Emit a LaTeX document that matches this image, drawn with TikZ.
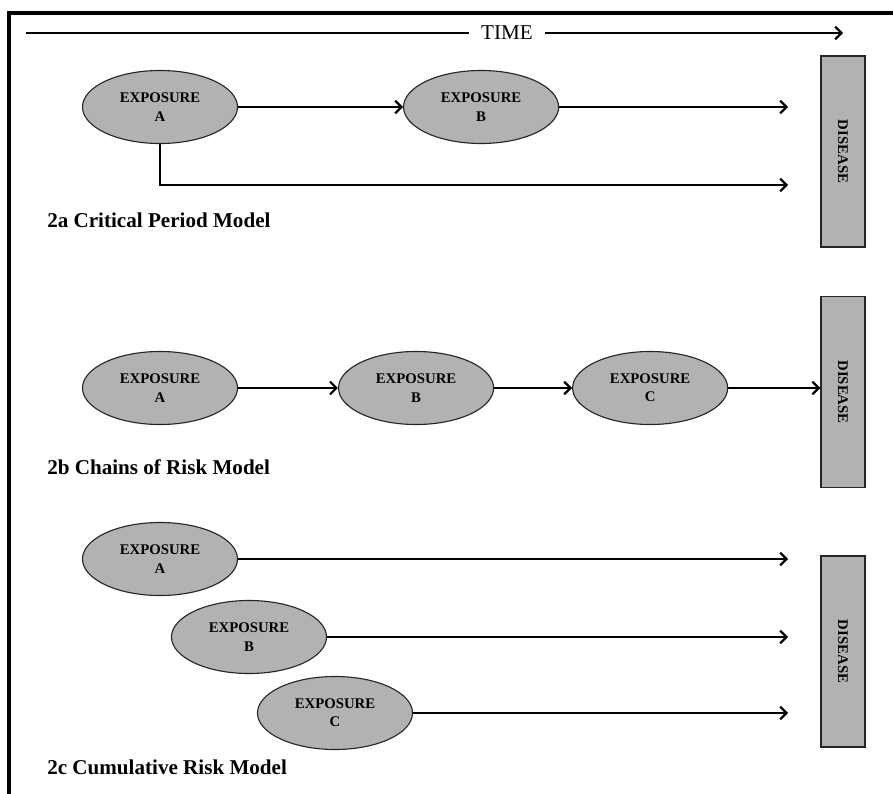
\documentclass[tikz,border=0pt]{standalone}
\usepackage{fontspec}
\setmainfont{Liberation Serif}
\usetikzlibrary{shapes,arrows,arrows.meta,calc}
\tikzstyle{line} = [draw, line width=1.8pt, -{Straight Barb[length=4.5pt,width=9pt,line width=1.6pt]}]
\tikzstyle{exposure} = [draw=black!85, fill=black!30, ellipse, line width=0.8pt, minimum width=3.875cm, minimum height=1.825cm, inner sep=0pt, align=center, font=\fontsize{10.5}{13}\selectfont\bfseries]
\tikzstyle{disease} = [draw=black!85, fill=black!30, rectangle, line width=1pt, minimum width=1.1cm, minimum height=4.775cm, inner sep=0pt, font=\fontsize{10.5}{13}\selectfont\bfseries]
\tikzstyle{model} = [anchor=west, inner sep=0pt, font=\fontsize{15}{18}\selectfont\bfseries]

\begin{document}
\begin{tikzpicture}[x=0.025cm, y=-0.025cm, node distance=6.4cm]
        \useasboundingbox (0,0) rectangle (893,794);
        \draw[line width=2.4pt] (9,794) -- (9,13) -- (893,13);
        % time axis
        \node[font=\fontsize{15}{18}\selectfont, inner xsep=0.3cm] (time) at (507,33) {TIME};
        \coordinate (tstart) at (26,33);
        \coordinate (tend) at (843,33);
        \draw[line width=1.8pt] (tstart) -- (time.west);
        \path[line] (time.east) -- (tend);
        % 2a
        \node[exposure] (expA1) at (160,107) {EXPOSURE\\A};
        \node[exposure, right of=expA1, node distance=8.025cm] (expB1) {EXPOSURE\\B};
        \node[disease] (dis1) at (843,151.5) {\rotatebox{-90}{DISEASE}};
        \coordinate (endB1) at (788,107);
        \coordinate (endA1) at (788,185);
        \path[line] (expA1) -- (expB1);
        \path[line] (expB1) -- (endB1);
        \path[line] (expA1.south) |- (endA1);
        \node[model] (lab1) at (47,220) {2a Critical Period Model};
        % 2b
        \node[exposure] (expA2) at (160,388) {EXPOSURE\\A};
        \node[exposure, right of=expA2] (expB2) {EXPOSURE\\B};
        \node[exposure, right of=expB2, node distance=5.85cm] (expC2) {EXPOSURE\\C};
        \node[disease] (dis2) at (843,392) {\rotatebox{-90}{DISEASE}};
        \path[line] (expA2) -- (expB2);
        \path[line] (expB2) -- (expC2);
        \path[line] (expC2) -- (expC2 -| dis2.west);
        \node[model] (lab2) at (47,467) {2b Chains of Risk Model};
        % 2c
        \node[exposure] (expA3) at (160,559) {EXPOSURE\\A};
        \node[exposure] (expB3) at (249,637) {EXPOSURE\\B};
        \node[exposure] (expC3) at (335,713) {EXPOSURE\\C};
        \node[disease] (dis3) at (843,651.5) {\rotatebox{-90}{DISEASE}};
        \coordinate (endA3) at (788,559);
        \coordinate (endB3) at (788,637);
        \coordinate (endC3) at (788,713);
        \path[line] (expA3) -- (endA3);
        \path[line] (expB3) -- (endB3);
        \path[line] (expC3) -- (endC3);
        \node[model] (lab3) at (47,767) {2c Cumulative Risk Model};
    \end{tikzpicture}
\end{document}
